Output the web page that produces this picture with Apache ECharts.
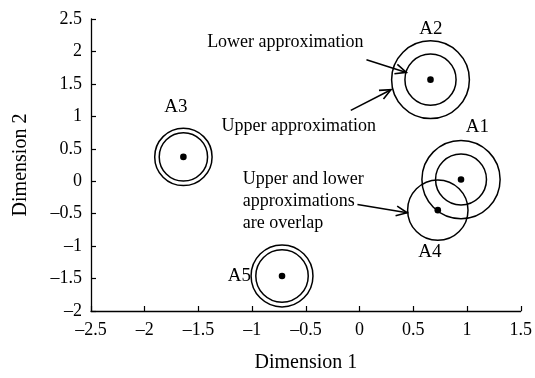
<!DOCTYPE html>
<html><head><meta charset="utf-8">
<script src="https://cdn.jsdelivr.net/npm/echarts@6/dist/echarts.min.js"></script>
<style>html,body{margin:0;padding:0;background:#fff}#c{width:535px;height:378px}</style>
</head><body><div id="c"></div>
<script>
// Objects
const categories = ['A1', 'A2', 'A3', 'A4', 'A5'];
const centerX = [0.944, 0.66, -1.64, 0.728, -0.722];
const centerY = [0.026, 1.565, 0.375, -0.446, -1.46];
const upperRadius = [0.364, 0.362, 0.267, 0.281, 0.288];
const lowerRadius = [0.237, 0.238, 0.225, 0.281, 0.244];
const labelX = [1.097, 0.663, -1.71, 0.654, -1.118];
const labelY = [0.842, 2.35, 1.15, -1.097, -1.46];

// Annotations
const noteTexts = ['Lower approximation', 'Upper approximation', 'Upper and lower\napproximations\nare overlap'];
const noteX = [-0.691, -0.566, -1.087];
const noteY = [2.134, 0.842, -0.312];
const noteAlign = ['center', 'center', 'left'];
const arrowFromX = [0.064, -0.082, -0.02];
const arrowFromY = [1.872, 1.092, -0.358];
const arrowToX = [0.435, 0.292, 0.443];
const arrowToY = [1.677, 1.411, -0.486];

// Axes
const xTicks = [-2.5, -2, -1.5, -1, -0.5, 0, 0.5, 1, 1.5];
const yTicks = [-2, -1.5, -1, -0.5, 0, 0.5, 1, 1.5, 2, 2.5];
const xName = 'Dimension 1';
const yName = 'Dimension 2';

const FONT = '"Liberation Serif", "Times New Roman", serif';
const fmt = v => String(v).replace('-', '\u2013');

const chart = echarts.init(document.getElementById('c'), null, {renderer: 'canvas'});
const axisCommon = {
  type: 'value',
  axisLine: {show: true, onZero: false, lineStyle: {color: '#000', width: 1.3}},
  axisTick: {show: true, inside: true, length: 5, lineStyle: {color: '#000', width: 1.2}},
  splitLine: {show: false},
  nameLocation: 'middle',
  nameTextStyle: {fontFamily: FONT, fontSize: 20, color: '#000'},
  axisLabel: {fontFamily: FONT, fontSize: 18, color: '#000', formatter: fmt}
};

const circleData = categories.map((c, i) => [centerX[i], centerY[i], upperRadius[i], lowerRadius[i]]);
const labelData = categories.map((c, i) => [labelX[i], labelY[i], c]);
const noteData = noteTexts.map((t, i) => [noteX[i], noteY[i], t, noteAlign[i]]);
const arrowData = arrowFromX.map((v, i) => [arrowFromX[i], arrowFromY[i], arrowToX[i], arrowToY[i]]);

chart.setOption({
  animation: false,
  backgroundColor: '#fff',
  grid: {left: 91, right: 13, top: 19, bottom: 66},
  xAxis: Object.assign({}, axisCommon, {
    min: xTicks[0], max: xTicks[xTicks.length - 1], interval: 0.5,
    name: xName, nameGap: 42,
    axisLabel: Object.assign({}, axisCommon.axisLabel, {margin: 10})
  }),
  yAxis: Object.assign({}, axisCommon, {
    min: yTicks[0], max: yTicks[yTicks.length - 1], interval: 0.5,
    name: yName, nameGap: 60,
    axisLabel: Object.assign({}, axisCommon.axisLabel, {margin: 9})
  }),
  series: [
    {
      type: 'custom', name: 'objects', clip: false, silent: true,
      data: circleData,
      renderItem: (params, api) => {
        const c = api.coord([api.value(0), api.value(1)]);
        const ru = api.size([api.value(2), 0])[0];
        const rl = api.size([api.value(3), 0])[0];
        const children = [{type: 'circle', shape: {cx: c[0], cy: c[1], r: ru},
          style: {fill: 'none', stroke: '#000', lineWidth: 1.5}}];
        if (Math.abs(ru - rl) > 0.5) {
          children.push({type: 'circle', shape: {cx: c[0], cy: c[1], r: rl},
            style: {fill: 'none', stroke: '#000', lineWidth: 1.5}});
        }
        children.push({type: 'circle', shape: {cx: c[0], cy: c[1], r: 3.3}, style: {fill: '#000'}});
        return {type: 'group', children};
      }
    },
    {
      type: 'custom', name: 'labels', clip: false, silent: true,
      data: labelData,
      renderItem: (params, api) => {
        const p = api.coord([api.value(0), api.value(1)]);
        return {type: 'text', x: p[0], y: p[1],
          style: {text: labelData[params.dataIndex][2], font: '19px ' + FONT, fill: '#000',
            align: 'center', verticalAlign: 'middle'}};
      }
    },
    {
      type: 'custom', name: 'notes', clip: false, silent: true,
      data: noteData,
      renderItem: (params, api) => {
        const p = api.coord([api.value(0), api.value(1)]);
        const d = noteData[params.dataIndex];
        return {type: 'text', x: p[0], y: p[1],
          style: {text: d[2], font: '18px ' + FONT, fill: '#000', lineHeight: 22,
            align: d[3], verticalAlign: 'middle'}};
      }
    },
    {
      type: 'custom', name: 'arrows', clip: false, silent: true,
      data: arrowData,
      renderItem: (params, api) => {
        const a = api.coord([api.value(0), api.value(1)]);
        const b = api.coord([api.value(2), api.value(3)]);
        const ang = Math.atan2(b[1] - a[1], b[0] - a[0]);
        const L = 12, w = 0.42;
        const h1 = [b[0] - L * Math.cos(ang - w), b[1] - L * Math.sin(ang - w)];
        const h2 = [b[0] - L * Math.cos(ang + w), b[1] - L * Math.sin(ang + w)];
        return {type: 'group', children: [
          {type: 'line', shape: {x1: a[0], y1: a[1], x2: b[0], y2: b[1]}, style: {stroke: '#000', lineWidth: 1.6}},
          {type: 'polyline', shape: {points: [h1, b, h2]}, style: {stroke: '#000', lineWidth: 1.6, fill: 'none'}}
        ]};
      }
    }
  ]
});
</script>
</body></html>
